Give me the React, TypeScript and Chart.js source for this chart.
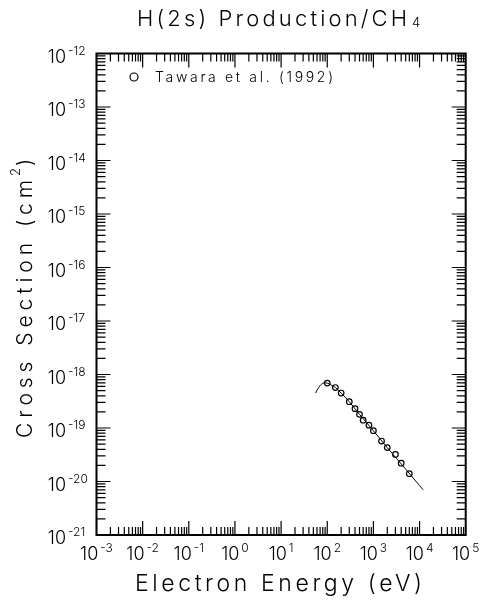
import React, { useEffect, useRef } from "react";
import { Chart, registerables } from "chart.js";

Chart.register(...registerables);

// ---- Data ----
const measuredEnergy = [100, 150, 200, 300, 400, 500, 600, 800, 1000, 1500, 2000, 3000, 4000, 6000];
const measuredSigma = [6.9e-19, 5.7e-19, 4.5e-19, 3.1e-19, 2.3e-19, 1.8e-19, 1.4e-19, 1.13e-19, 8.9e-20, 5.7e-20, 4.3e-20, 3.2e-20, 2.2e-20, 1.4e-20];

const fitEnergy = [56, 60, 65, 70, 80, 90, 100, 120, 150, 200, 300, 500, 1000, 2000, 5000, 10000, 12000];
const fitSigma = [4.5e-19, 5.1e-19, 5.7e-19, 6.2e-19, 6.85e-19, 7.0e-19, 6.9e-19, 6.4e-19, 5.7e-19, 4.5e-19, 3.1e-19, 1.8e-19, 8.9e-20, 4.3e-20, 1.7e-20, 8.4e-21, 7.0e-21];

const xDecades = [-3, -2, -1, 0, 1, 2, 3, 4, 5];
const yDecades = [-21, -20, -19, -18, -17, -16, -15, -14, -13, -12];

const titleMain = "H(2s) Production/CH";
const titleSub = "4";
const xTitle = "Electron Energy (eV)";
const yTitleMain = "Cross Section (cm";
const yTitleSup = "2";
const yTitleEnd = ")";
const legendLabel = "Tawara et al. (1992)";

const FONT = '"Inter", "DejaVu Sans", sans-serif';
const W = 300;

function font(size: number) {
  return `${W} ${size}px ${FONT}`;
}

function spacingFor(ctx: CanvasRenderingContext2D, text: string, size: number, width: number) {
  ctx.font = font(size);
  (ctx as any).letterSpacing = "0px";
  const w = ctx.measureText(text).width;
  const n = Array.from(text).length;
  return Math.max(-1, (width - w) / Math.max(1, n - 1));
}

function drawSpaced(ctx: CanvasRenderingContext2D, text: string, x: number, y: number, size: number, width: number) {
  const sp = spacingFor(ctx, text, size, width);
  ctx.font = font(size);
  (ctx as any).letterSpacing = `${sp}px`;
  ctx.textAlign = "left";
  ctx.textBaseline = "alphabetic";
  ctx.fillText(text, x, y);
  (ctx as any).letterSpacing = "0px";
}

const framePlugin = {
  id: "framePlugin",
  afterDraw(chart: any) {
    const ctx: CanvasRenderingContext2D = chart.ctx;
    const ca = chart.chartArea;
    const xs = chart.scales.x;
    const ys = chart.scales.y;
    ctx.save();
    ctx.fillStyle = "#000";
    ctx.strokeStyle = "#000";

    // ticks
    ctx.lineWidth = 1.2;
    ctx.beginPath();
    for (let d = -3; d < 5; d++) {
      for (let m = 1; m <= 9; m++) {
        const x = xs.getPixelForValue(m * Math.pow(10, d));
        const len = m === 1 ? 14 : 8;
        ctx.moveTo(x, ca.bottom);
        ctx.lineTo(x, ca.bottom - len);
        ctx.moveTo(x, ca.top);
        ctx.lineTo(x, ca.top + len);
      }
    }
    for (let d = -21; d < -12; d++) {
      for (let m = 1; m <= 9; m++) {
        const y = ys.getPixelForValue(m * Math.pow(10, d));
        const len = m === 1 ? 14 : 9;
        ctx.moveTo(ca.left, y);
        ctx.lineTo(ca.left + len, y);
        ctx.moveTo(ca.right, y);
        ctx.lineTo(ca.right - len, y);
      }
    }
    ctx.stroke();

    // frame
    ctx.lineWidth = 2;
    ctx.strokeRect(ca.left, ca.top, ca.right - ca.left, ca.bottom - ca.top);

    // x tick labels
    ctx.textBaseline = "alphabetic";
    for (const e of xDecades) {
      const x = xs.getPixelForValue(Math.pow(10, e));
      ctx.font = font(18);
      const w10 = ctx.measureText("10").width;
      ctx.font = font(12);
      const exp = String(e);
      const we = ctx.measureText(exp).width;
      const total = w10 + 2 + we;
      const x0 = x - total / 2;
      ctx.textAlign = "left";
      ctx.font = font(18);
      ctx.fillText("10", x0, ca.bottom + 25);
      ctx.font = font(12);
      ctx.fillText(exp, x0 + w10 + 2, ca.bottom + 17);
    }

    // y tick labels
    for (const e of yDecades) {
      const y = ys.getPixelForValue(Math.pow(10, e));
      ctx.textAlign = "right";
      ctx.font = font(18);
      ctx.fillText("10", 66, y + 9);
      ctx.textAlign = "left";
      ctx.font = font(12);
      ctx.fillText(String(e), 68, y + 1);
    }

    // title
    drawSpaced(ctx, titleMain, 137, 26, 22, 270);
    ctx.font = font(13);
    ctx.textAlign = "left";
    ctx.fillText(titleSub, 412, 27);

    // x title
    drawSpaced(ctx, xTitle, 135, 591, 23, 287);

    // y title (rotated)
    ctx.save();
    ctx.translate(32, 438);
    ctx.rotate(-Math.PI / 2);
    drawSpaced(ctx, yTitleMain, 0, 0, 21, 258);
    ctx.font = font(13);
    ctx.textAlign = "left";
    ctx.fillText(yTitleSup, 262, -12);
    ctx.font = font(21);
    ctx.fillText(yTitleEnd, 272, 0);
    ctx.restore();

    // legend
    ctx.lineWidth = 1.2;
    ctx.beginPath();
    ctx.arc(134, 77, 4, 0, Math.PI * 2);
    ctx.stroke();
    drawSpaced(ctx, legendLabel, 155, 82, 14, 178);

    ctx.restore();
  },
};

export default function App() {
  const canvasRef = useRef<HTMLCanvasElement | null>(null);

  useEffect(() => {
    const canvas = canvasRef.current;
    if (!canvas) return;
    const chart = new Chart(canvas, {
      type: "scatter",
      data: {
        datasets: [
          {
            label: "fit",
            data: fitEnergy.map((x, i) => ({ x, y: fitSigma[i] })),
            showLine: true,
            borderColor: "#000",
            borderWidth: 1,
            pointRadius: 0,
            cubicInterpolationMode: "monotone",
          },
          {
            label: legendLabel,
            data: measuredEnergy.map((x, i) => ({ x, y: measuredSigma[i] })),
            showLine: false,
            pointStyle: "circle",
            pointRadius: 2.8,
            pointBackgroundColor: "rgba(255,255,255,0)",
            pointBorderColor: "#000",
            pointBorderWidth: 1.2,
          },
        ],
      },
      options: {
        animation: false,
        responsive: false,
        devicePixelRatio: 1,
        layout: { padding: { left: 96.5, right: 20.3, top: 53.5, bottom: 65 } },
        plugins: { legend: { display: false }, tooltip: { enabled: false }, title: { display: false } },
        scales: {
          x: { type: "logarithmic", min: 1e-3, max: 1e5, display: false },
          y: { type: "logarithmic", min: 1e-21, max: 1e-12, display: false },
        },
      },
      plugins: [framePlugin],
    } as any);
    return () => chart.destroy();
  }, []);

  return (
    <div style={{ position: "fixed", left: 0, top: 0, width: 486, height: 600, background: "#fff" }}>
      <canvas ref={canvasRef} width={486} height={600} style={{ display: "block" }} />
    </div>
  );
}
